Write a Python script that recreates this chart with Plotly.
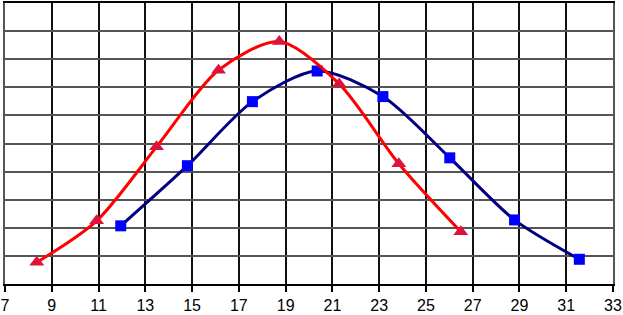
import plotly.graph_objects as go

red_x = [8.36, 10.92, 13.48, 16.13, 18.73, 21.29, 23.84, 26.49]
red_y = [0.77, 2.25, 4.88, 7.61, 8.63, 7.12, 4.28, 1.86]
blue_x = [11.95, 14.80, 17.58, 20.35, 23.16, 26.02, 28.79, 31.56]
blue_y = [2.07, 4.21, 6.49, 7.58, 6.67, 4.49, 2.28, 0.88]
x_ticks = list(range(7, 34, 2))

fig = go.Figure()
fig.add_trace(go.Scatter(
    x=blue_x, y=blue_y, mode="lines+markers",
    line=dict(color="#000080", width=3, shape="spline", smoothing=0.8),
    marker=dict(symbol="square", size=11, color="#0000FF"),
))
fig.add_trace(go.Scatter(
    x=red_x, y=red_y, mode="lines+markers",
    line=dict(color="#FF0000", width=3, shape="spline", smoothing=0.8),
    marker=dict(symbol="triangle-up", size=13, color="#DC143C"),
))

fig.update_layout(
    width=623, height=315,
    margin=dict(l=5, r=8, t=1, b=30),
    paper_bgcolor="white", plot_bgcolor="white",
    showlegend=False,
    font=dict(family="Liberation Sans, Arial, sans-serif", size=16, color="black"),
)
fig.update_xaxes(
    range=[7, 33], tickvals=x_ticks, ticktext=[str(v) for v in x_ticks],
    ticklabeloverflow="allow",
    showgrid=True, gridcolor="#111111", gridwidth=1.5,
    showline=True, linecolor="black", linewidth=1.5, mirror=True,
    ticks="outside", ticklen=6, tickcolor="black", tickwidth=1.5,
    zeroline=False,
)
fig.update_yaxes(
    range=[0, 10], dtick=1, showticklabels=False,
    showgrid=True, gridcolor="#555555", gridwidth=1.5,
    showline=True, linecolor="#555555", linewidth=1.5, mirror=True,
    zeroline=False,
)
fig.write_html(
    "out.html",
    config={"displayModeBar": False},
    post_script="document.body.style.margin='0';document.body.style.padding='0';document.body.style.overflow='hidden';",
)
